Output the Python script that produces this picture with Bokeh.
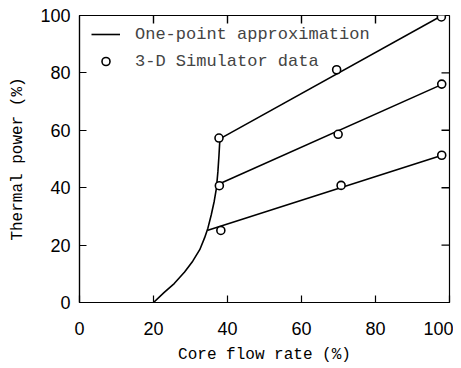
import math
from bokeh.plotting import figure
from bokeh.models import Legend, LegendItem, Range1d, FixedTicker
from bokeh.embed import file_html
from bokeh.resources import INLINE

# One-point approximation: transition curve and three flow-control lines
curve_x = [20.0, 22.9, 25.6, 28.4, 30.6, 32.5, 33.8, 34.7, 35.6, 36.4, 37.0, 37.4, 37.7, 37.9, 37.9]
curve_y = [0.0, 3.5, 6.6, 10.6, 14.4, 18.4, 22.5, 25.9, 30.5, 35.2, 39.8, 45.5, 51.3, 55.9, 57.0]
upper_x = [37.9, 98.0]
upper_y = [57.0, 100.0]
middle_x = [37.7, 98.0]
middle_y = [41.3, 76.0]
lower_x = [34.7, 98.0]
lower_y = [25.2, 51.3]

# 3-D simulator data
sim_x = [37.7, 37.8, 38.2, 69.5, 69.9, 70.7, 97.8, 97.9, 97.9]
sim_y = [57.3, 40.7, 25.1, 81.1, 58.6, 40.8, 99.5, 76.1, 51.3]

ticks = [0, 20, 40, 60, 80, 100]
inner_ticks = [20, 40, 60, 80]

LABEL_FONT = "Liberation Mono"
TICK_FONT = "Liberation Sans"

p = figure(width=453, height=366, output_backend="svg", toolbar_location=None,
           x_range=Range1d(0, 100), y_range=Range1d(0, 100),
           min_border_left=79, min_border_right=4, min_border_top=15, min_border_bottom=62)
p.grid.visible = False
p.outline_line_color = "black"
p.outline_line_width = 1.2
p.background_fill_color = "white"
p.border_fill_color = "white"

for ax in (p.xaxis[0], p.yaxis[0]):
    ax.ticker = FixedTicker(ticks=ticks)
    ax.major_tick_in = 7
    ax.major_tick_out = 0
    ax.minor_tick_line_color = None
    ax.axis_line_color = "black"
    ax.axis_line_width = 1.2
    ax.major_tick_line_width = 1.2
    ax.major_label_text_font = TICK_FONT
    ax.major_label_text_font_size = "18px"
    ax.major_label_text_color = "black"
    ax.axis_label_text_font = LABEL_FONT
    ax.axis_label_text_font_size = "16px"
    ax.axis_label_text_font_style = "normal"
    ax.axis_label_text_color = "black"

p.xaxis.axis_label = "Core flow rate (%)"
p.yaxis.axis_label = "Thermal power (%)"
p.xaxis.major_label_standoff = 19
p.xaxis.axis_label_standoff = 8
p.yaxis.major_label_standoff = 9
p.yaxis.axis_label_standoff = 10

# mirrored inward ticks on the top and right frame edges
p.ray(x=inner_ticks, y=[100] * len(inner_ticks), length=8, length_units="screen",
      angle=-math.pi / 2, line_color="black", line_width=1.4)
p.ray(x=[100] * len(inner_ticks), y=inner_ticks, length=8, length_units="screen",
      angle=math.pi, line_color="black", line_width=1.4)

kw = dict(line_color="black", line_width=1.6)
r_curve = p.line(curve_x, curve_y, **kw)
p.line(upper_x, upper_y, **kw)
p.line(middle_x, middle_y, **kw)
p.line(lower_x, lower_y, **kw)
r_sim = p.scatter(sim_x, sim_y, marker="circle", size=8, fill_color="white",
                  line_color="black", line_width=1.6)

legend = Legend(items=[LegendItem(label="One-point approximation", renderers=[r_curve]),
                       LegendItem(label="3-D Simulator data", renderers=[r_sim])],
                location=(12, 231), padding=0, margin=0, spacing=7,
                glyph_width=29, glyph_height=20, label_height=20, label_standoff=15,
                label_text_font=LABEL_FONT, label_text_font_size="17px",
                border_line_color=None, background_fill_alpha=0)
p.add_layout(legend, "center")

open("out.html", "w").write(file_html(p, INLINE))
